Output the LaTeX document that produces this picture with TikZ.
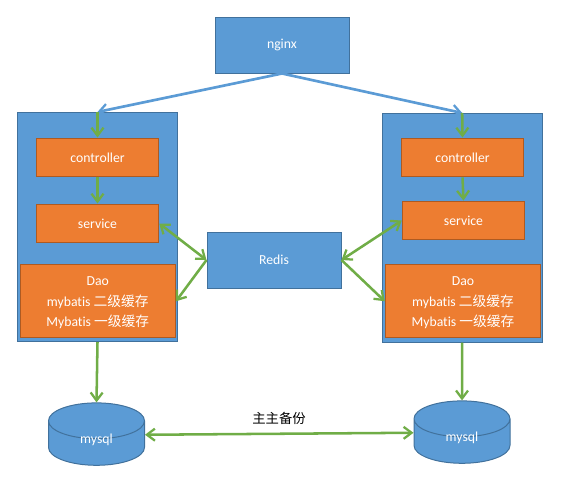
\documentclass[tikz,border=0pt]{standalone}
\usepackage{fontspec}
\setmainfont[Ligatures=NoCommon]{Carlito}
\newfontfamily\cjk{Noto Sans CJK SC}
\usetikzlibrary{arrows.meta,shapes.geometric}
\definecolor{bluefill}{HTML}{5B9BD5}
\definecolor{blueline}{HTML}{41719C}
\definecolor{orangefill}{HTML}{ED7D31}
\definecolor{orangeline}{HTML}{AE5A21}
\definecolor{greenline}{HTML}{70AD47}
\tikzset{
  x=0.75pt,y=-0.75pt,
  bluebox/.style={draw=blueline,fill=bluefill,line width=0.75pt,inner sep=0pt,text=white,align=center,font=\fontsize{10.3}{15.4}\selectfont},
  orangebox/.style={draw=orangeline,fill=orangefill,line width=0.75pt,inner sep=0pt,text=white,align=center,font=\fontsize{10.3}{15.4}\selectfont},
  dbshape/.style={shape=cylinder,shape border rotate=90,aspect=1.1,cylinder uses custom fill,cylinder end fill=bluefill,cylinder body fill=bluefill,draw=blueline,line width=0.75pt,inner sep=0pt,text=white,font=\fontsize{10.3}{12}\selectfont,minimum width=72pt,minimum height=46.8pt},
  greenarrow/.style={draw=greenline,line width=1.9pt,-{Straight Barb[length=6pt,width=9pt,line width=1.7pt]}},
  greenboth/.style={draw=greenline,line width=1.9pt,{Straight Barb[length=6pt,width=9pt,line width=1.7pt]}-{Straight Barb[length=6pt,width=9pt,line width=1.7pt]}},
  bluearrow/.style={draw=bluefill,line width=2pt,-{Straight Barb[length=6pt,width=9pt,line width=1.7pt]}},
}
\begin{document}
\begin{tikzpicture}
\useasboundingbox (0,0) rectangle (564,482);
\node[bluebox,minimum width=100.5pt,minimum height=42pt] (nginx) at (282,45) {nginx};
\node[bluebox,minimum width=120.4pt,minimum height=171.8pt] (boxL) at (97.5,227) {};
\node[bluebox,minimum width=120pt,minimum height=171.4pt] (boxR) at (462.2,227.75) {};
\node[orangebox,minimum width=91.9pt,minimum height=29.2pt] (ctlL) at (97.5,157.5) {controller};
\node[orangebox,minimum width=91.9pt,minimum height=29.2pt] (svcL) at (97.5,223.5) {service};
\node[orangebox,minimum width=116.6pt,minimum height=54.4pt] (daoL) at (97.75,301.25) {\rule{0pt}{9pt}Dao\\mybatis {\cjk 二级缓存}\\Mybatis {\cjk 一级缓存}};
\node[orangebox,minimum width=91.9pt,minimum height=29.2pt] (ctlR) at (462.5,157.5) {controller};
\node[orangebox,minimum width=91.9pt,minimum height=29.2pt] (svcR) at (463.5,220.5) {service};
\node[orangebox,minimum width=116.6pt,minimum height=54.4pt] (daoR) at (463,301.25) {\rule{0pt}{9pt}Dao\\mybatis {\cjk 二级缓存}\\Mybatis {\cjk 一级缓存}};
\node[bluebox,minimum width=100.5pt,minimum height=42pt] (redis) at (274,260) {Redis};
\node[dbshape] (dbL) at (96.5,443.3) {\smash{\raisebox{-0.2pt}{mysql}}};
\node[dbshape] (dbR) at (462,441.3) {\smash{\raisebox{-0.2pt}{mysql}}};
\node[font=\cjk\fontsize{10}{12}\selectfont,inner sep=0pt] (bak) at (279,418) {主主备份};
\draw[bluearrow] (nginx.south) -- (boxL.north);
\draw[bluearrow] (nginx.south) -- (boxR.north);
\draw[greenarrow] (boxL.north) -- (ctlL.north);
\draw[greenarrow] (ctlL.south) -- (svcL.north);
\draw[greenarrow] (boxR.north) -- (ctlR.north);
\draw[greenarrow] (ctlR.south) -- (svcR.north);
\draw[greenboth] (svcL.east) -- (redis.west);
\draw[greenarrow] (redis.west) -- (daoL.east);
\draw[greenboth] (svcR.west) -- (redis.east);
\draw[greenarrow] (redis.east) -- (daoR.west);
\draw[greenarrow] (boxL.south) -- (dbL.north);
\draw[greenarrow] (boxR.south) -- (dbR.north);
\draw[greenboth] ([yshift=6.4pt]dbL.east) -- ([yshift=6.4pt]dbR.west);
\end{tikzpicture}
\end{document}
